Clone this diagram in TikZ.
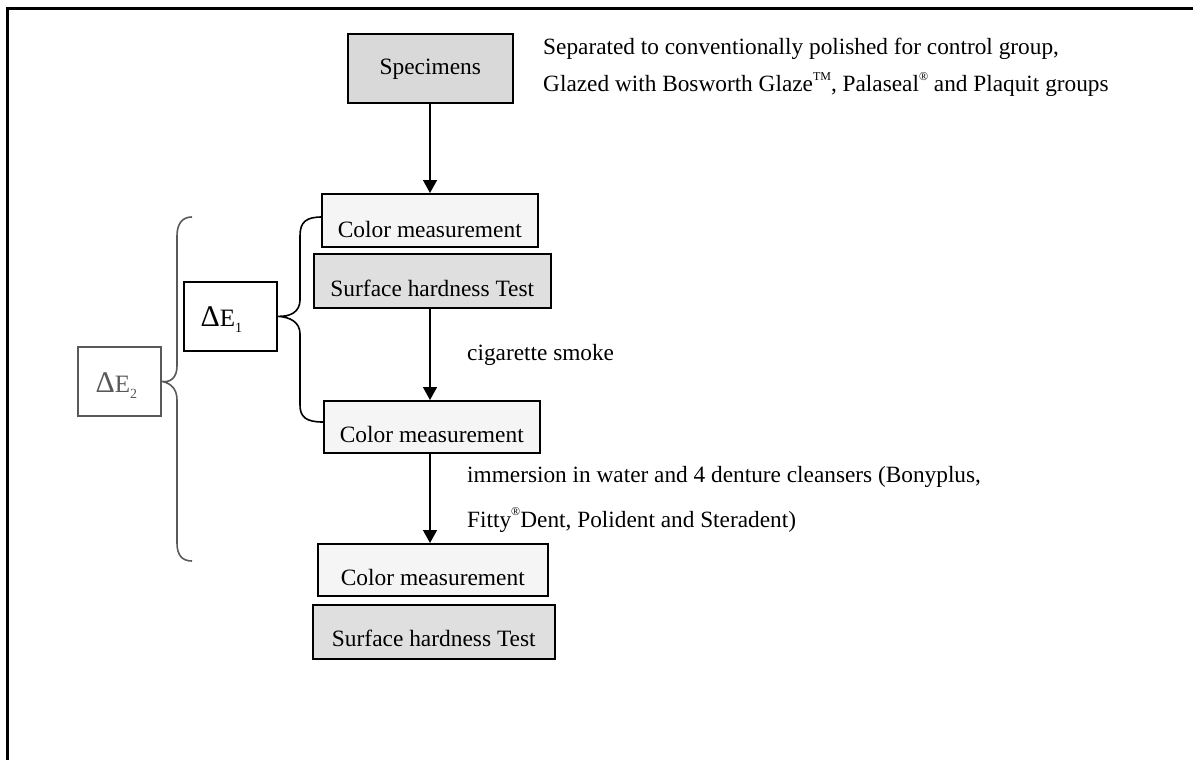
\documentclass[tikz,border=0pt]{standalone}
\usepackage{fontspec}
\setmainfont{Liberation Serif}
\usetikzlibrary{arrows.meta}
\definecolor{specfill}{HTML}{D9D9D9}
\definecolor{hardfill}{HTML}{DFDFDF}
\definecolor{colfill}{HTML}{F5F5F5}
\definecolor{dgray}{HTML}{595959}
\newcommand{\deltaE}[1]{{\fontsize{30}{31}\selectfont Δ}{\fontsize{25}{26}\selectfont E}\raisebox{-6pt}{\fontsize{14}{15}\selectfont #1}}
\newcommand{\supmark}[1]{\raisebox{12pt}{\fontsize{12}{13}\selectfont #1}}
\begin{document}
\begin{tikzpicture}[x=1pt,y=-1pt,
  box/.style={draw=black, line width=1.6pt, inner xsep=0pt, inner ysep=0pt, anchor=north west, align=center, font=\fontsize{23.4}{25}\selectfont},
  flow/.style={line width=1.5pt, -{Triangle[length=13pt,width=14pt]}},
  brace/.style={line width=1.6pt},
  side/.style={anchor=base west, inner sep=0pt, font=\fontsize{23.3}{25}\selectfont}
]
\useasboundingbox (0,0) rectangle (1193,760);
% frame
\draw[line width=3pt] (7,760) -- (7,9) -- (1193,9);

\node[box, fill=specfill, minimum width=165pt, text height=41pt, text depth=28pt] (spec) at (347,33) {Specimens};
\node[box, fill=colfill, minimum width=216pt, text height=44pt, text depth=9pt] (c1) at (321,193) {Color measurement};
\node[box, fill=hardfill, minimum width=237pt, text height=43pt, text depth=11pt] (s1) at (313,253) {Surface hardness Test};
\node[box, fill=colfill, minimum width=216pt, text height=42pt, text depth=10pt] (c2) at (323,400) {Color measurement};
\node[box, fill=colfill, minimum width=230pt, text height=42pt, text depth=10pt] (c3) at (317,543) {Color measurement};
\node[box, fill=hardfill, minimum width=242pt, text height=42pt, text depth=12pt] (s3) at (312,604) {Surface hardness Test};

\draw[flow] (spec.south -| 430,0) -- (c1.north -| 430,0);
\draw[flow] (s1.south -| 430,0) -- (c2.north -| 430,0);
\draw[flow] (c2.south -| 430,0) -- (c3.north -| 430,0);

% delta E1
\node[box, minimum width=93pt, text height=45pt, text depth=24pt] (d1) at (183,281) {\deltaE{1}\hspace*{18pt}};
\coordinate (b1t) at (322,217);
\coordinate (b1b) at (323,422);
\draw[brace] (b1t) .. controls (306,217) and (300,222) .. (300,236) -- (300,300)
  .. controls (300,312) and (290,317) .. (d1.east)
  .. controls (290,317) and (300,322) .. (300,334) -- (300,405)
  .. controls (300,417) and (306,422) .. (b1b);

% delta E2
\node[box, draw=dgray, text=dgray, minimum width=83pt, text height=46pt, text depth=23pt] (d2) at (77,346) {\deltaE{2}\hspace*{6pt}};
\coordinate (b2t) at (192,217);
\coordinate (b2b) at (192,561);
\draw[brace, draw=dgray] (b2t) .. controls (182,217) and (177,224) .. (177,236) -- (177,366)
  .. controls (177,378) and (170,383) .. (d2.east)
  .. controls (170,383) and (177,388) .. (177,400) -- (177,543)
  .. controls (177,555) and (182,561) .. (b2b);

% side texts
\node[side] (t1) at (543,55) {Separated to conventionally polished for control group,};
\node[side] (t2) at (543,92) {Glazed with Bosworth Glaze\supmark{TM}, Palaseal\supmark{®} and Plaquit groups};
\node[side] (t3) at (467,360) {cigarette smoke};
\node[side] (t4) at (467,482) {immersion in water and 4 denture cleansers (Bonyplus,};
\node[side] (t5) at (467,527) {Fitty\supmark{®}Dent, Polident and Steradent)};
\end{tikzpicture}
\end{document}
